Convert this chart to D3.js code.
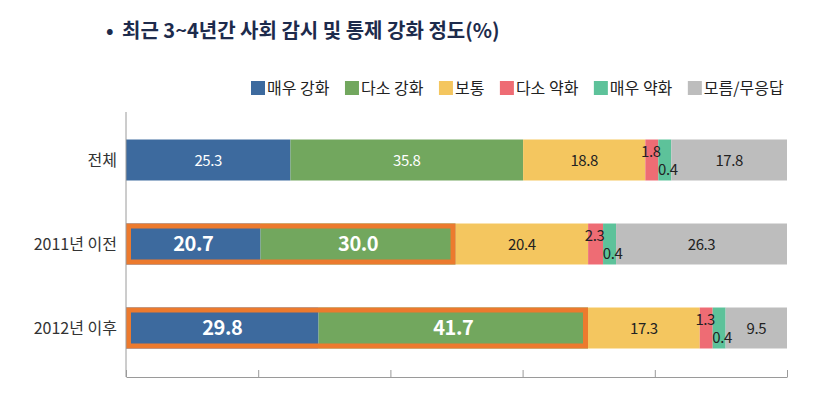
<!DOCTYPE html>
<html><head><meta charset="utf-8">
<script src="https://cdn.jsdelivr.net/npm/d3@7"></script>
<style>body{margin:0;background:#fff;} svg{display:block;font-family:"Noto Sans CJK KR","Noto Sans",sans-serif;}</style>
</head><body><svg id="c" width="823" height="408"></svg>
<script>
const title = "최근 3~4년간 사회 감시 및 통제 강화 정도(%)";
const categories = ["전체", "2011년 이전", "2012년 이후"];
const seriesNames = ["매우 강화", "다소 강화", "보통", "다소 약화", "매우 약화", "모름/무응답"];
const veryStrong = [25.3, 20.7, 29.8];
const someStrong = [35.8, 30.0, 41.7];
const normal     = [18.8, 20.4, 17.3];
const someWeak   = [1.8, 2.3, 1.3];
const veryWeak   = [0.4, 0.4, 0.4];
const unknown    = [17.8, 26.3, 9.5];
const highlighted = [false, true, true];
const xTicks = [0, 0.2, 0.4, 0.6, 0.8, 1];

const colors = ["#3D6A9E", "#72A75E", "#F4C65F", "#EE6C74", "#5DC29A", "#BDBDBD"];
const minShare = 2.0; // minimum visible width for tiny segments
const seriesVals = [veryStrong, someStrong, normal, someWeak, veryWeak, unknown];
const rows = categories.map((c, i) => {
  const o = {cat: c, idx: i};
  seriesNames.forEach((s, j) => o[s] = seriesVals[j][i]);
  return o;
});

const svg = d3.select("#c");
const x = d3.scaleLinear().domain([0, 1]).range([126, 787]);
const y = d3.scaleBand().domain(categories).range([118, 370]).paddingInner(0.512).paddingOuter(0.256);

const stack = d3.stack().keys(seriesNames)
  .value((d, k) => Math.max(d[k], minShare))
  .offset(d3.stackOffsetExpand);
const layers = stack(rows);

// Title
const tg = svg.append("g");
tg.append("text").attr("x", 106).attr("y", 38).attr("font-size", 20).attr("font-weight", 700)
  .attr("fill", "#1D2B4C").text("•");
tg.append("text").attr("x", 122).attr("y", 38).attr("font-size", 20).attr("font-weight", 700)
  .attr("fill", "#1D2B4C").text(title);

// Legend
const lg = svg.append("g");
let lx = 251;
seriesNames.forEach((s, j) => {
  lg.append("rect").attr("x", lx).attr("y", 81).attr("width", 14).attr("height", 14).attr("fill", colors[j]);
  const t = lg.append("text").attr("x", lx + 16).attr("y", 94).attr("font-size", 16).attr("fill", "#222").text(s);
  lx += 16 + t.node().getComputedTextLength() + 15.5;
});

// Bars
const bars = svg.append("g");
layers.forEach((layer, j) => {
  bars.selectAll(null).data(layer).enter().append("rect")
    .attr("x", d => x(d[0])).attr("width", d => x(d[1]) - x(d[0]))
    .attr("y", d => y(d.data.cat)).attr("height", y.bandwidth())
    .attr("fill", colors[j]);
});

// Highlight boxes around first two segments
const hw = 5;
rows.forEach((r, i) => {
  if (!highlighted[i]) return;
  const x0 = x(layers[0][i][0]), x1 = x(layers[1][i][1]);
  svg.append("rect").attr("x", x0 + hw / 2).attr("y", y(r.cat) + hw / 2)
    .attr("width", x1 - x0 - hw).attr("height", y.bandwidth() - hw)
    .attr("fill", "none").attr("stroke", "#EC7A2E").attr("stroke-width", hw);
});

// Axes
const axisG = svg.append("g").attr("transform", "translate(0,377)")
  .call(d3.axisBottom(x).tickValues(xTicks).tickSizeInner(-7).tickSizeOuter(0).tickFormat(""));
axisG.select(".domain").attr("stroke", "#9a9a9a");
axisG.selectAll(".tick line").attr("stroke", "#9a9a9a");
svg.append("line").attr("x1", x(0)).attr("x2", x(0)).attr("y1", 112).attr("y2", 377).attr("stroke", "#9a9a9a");

// Category labels
svg.append("g").selectAll("text").data(categories).enter().append("text")
  .attr("x", 117).attr("y", d => y(d) + y.bandwidth() / 2 + 5.5)
  .attr("text-anchor", "end").attr("font-size", 16).attr("fill", "#333").text(d => d);

// Value labels
const labels = svg.append("g");
layers.forEach((layer, j) => {
  layer.forEach((d, i) => {
    const v = d.data[seriesNames[j]];
    const cx = (x(d[0]) + x(d[1])) / 2;
    const cy = y(d.data.cat) + y.bandwidth() / 2;
    const big = highlighted[i] && j < 2;
    let dx = 0, dy = 0;
    if (j === 3) { dy = -9; dx = -1; }
    if (j === 4) { dy = 9; dx = 3; }
    labels.append("text")
      .attr("x", cx + dx).attr("y", cy + dy + (big ? 7 : 5.5))
      .attr("text-anchor", "middle")
      .attr("font-size", big ? 20 : 15)
      .attr("font-weight", big ? 700 : 400)
      .attr("fill", j < 2 ? "#fff" : "#222")
      .attr("letter-spacing", big ? -0.5 : -0.4)
      .text(v.toFixed(1));
  });
});
</script></body></html>
